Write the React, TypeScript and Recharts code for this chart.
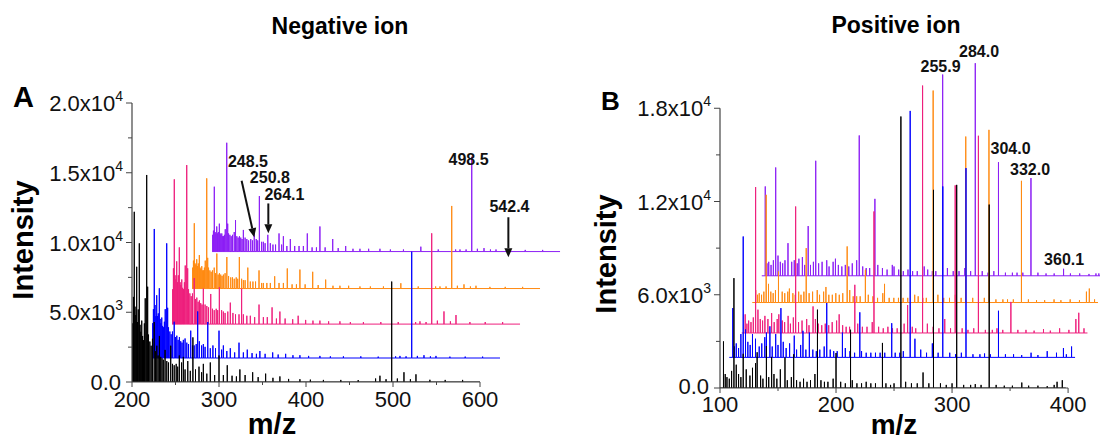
import { LineChart, Line, XAxis, YAxis, ReferenceLine, ReferenceDot } from 'recharts';

const FONT = 'Arial, "Liberation Sans", sans-serif';
const AXIS = '#444';

// ---- Negative ion (A): stick positions shared by the five spectra ----
const negMz = [
  200, 200.8, 201.6, 202.6, 203.5, 204.4, 205.4, 206.3, 207.2, 208.4,
  209.3, 210.2, 211.2, 212.2, 213.2, 214.2, 215.2, 216.9, 218, 219,
  220.5, 222, 223.5, 225.5, 227, 228.5, 230, 231.5, 233, 234.5,
  236, 238, 240, 242, 244.5, 246.5, 248.5, 250.8, 252.5, 254.4,
  257, 259, 261, 264.1, 267, 270, 273, 277, 280, 282,
  286, 290, 295, 300, 305, 309.5, 315, 320, 324, 330,
  338.7, 345, 353.6, 362, 370, 380, 393, 405, 420, 440,
  460, 480, 485, 492, 498.5, 505, 512.6, 520, 526.4, 542.4,
  560, 580, 600,
];
const negBlack = [
  0, 4200, 6100, 12200, 5400, 4800, 8260, 4300, 5200, 9940,
  4100, 3600, 4400, 3300, 3000, 4200, 6000, 14840, 6830, 3400,
  2900, 2600, 3100, 4300, 2200, 2600, 1900, 3300, 1800, 1700,
  1600, 2300, 1500, 1400, 2600, 1300, 1200, 1300, 1100, 1900,
  1400, 1800, 900, 1500, 800, 3200, 900, 1100, 700, 1300,
  600, 1400, 500, 1900, 500, 1200, 450, 400, 900, 500,
  700, 350, 600, 300, 400, 220, 200, 170, 150, 150,
  140, 250, 450, 200, 7200, 250, 700, 200, 550, 160,
  150, 150, 0,
];
const negBlue = [
  0, 2500, 3500, 9250, 3800, 3000, 4500, 3000, 3200, 5000,
  2800, 2500, 2900, 2300, 2200, 2600, 3500, 8220, 3600, 2200,
  1900, 1700, 1900, 2600, 1500, 1600, 1300, 1500, 1200, 1100,
  1300, 1400, 1100, 1000, 1960, 900, 900, 1000, 3340, 1200,
  900, 1000, 800, 2580, 700, 900, 700, 1960, 600, 900,
  500, 700, 400, 1100, 400, 600, 350, 300, 500, 300,
  400, 250, 300, 200, 200, 150, 150, 120, 120, 120,
  100, 120, 150, 120, 7620, 150, 200, 120, 150, 100,
  100, 100, 0,
];
const negPink = [
  0, 2500, 4000, 10380, 3500, 3200, 4500, 3000, 3500, 5500,
  3000, 2800, 3200, 2600, 2500, 3000, 4200, 11400, 4000, 2500,
  2200, 2000, 2200, 3300, 1800, 1900, 1600, 1700, 1500, 1400,
  2540, 1400, 1300, 1200, 2160, 1100, 1000, 1100, 1000, 2640,
  1000, 900, 800, 900, 1540, 800, 700, 700, 2540, 700,
  600, 600, 500, 1400, 500, 500, 1200, 400, 900, 400,
  350, 600, 300, 250, 250, 200, 200, 150, 150, 150,
  150, 150, 200, 150, 6510, 250, 910, 200, 650, 150,
  150, 150, 0,
];
const negOrange = [
  0, 1500, 2000, 4680, 1800, 1700, 2100, 1600, 1800, 2400,
  1500, 1400, 1600, 1300, 1300, 1500, 2000, 7900, 2200, 1500,
  1300, 1200, 1300, 1500, 1100, 2510, 1000, 1100, 1000, 900,
  1000, 1100, 2260, 900, 800, 800, 700, 800, 700, 2260,
  700, 600, 600, 1500, 500, 500, 500, 1300, 400, 400,
  400, 400, 880, 400, 400, 1440, 300, 300, 1360, 300,
  1200, 250, 640, 200, 200, 200, 150, 150, 150, 380,
  150, 150, 150, 150, 5920, 200, 300, 150, 200, 120,
  120, 120, 0,
];
const negPurple = [
  0, 1200, 1500, 4650, 1400, 1300, 1800, 1300, 1400, 2000,
  1300, 1200, 1300, 1100, 1100, 1200, 1600, 7800, 2000, 1300,
  1200, 1100, 1200, 1400, 2260, 1100, 1000, 1100, 1000, 900,
  1550, 1000, 900, 800, 900, 800, 1300, 900, 800, 3980,
  700, 700, 600, 1200, 600, 500, 500, 1300, 500, 1100,
  400, 900, 400, 400, 400, 1300, 300, 300, 1800, 300,
  900, 250, 400, 200, 200, 200, 200, 150, 150, 350,
  150, 150, 150, 150, 6800, 200, 250, 150, 150, 150,
  120, 120, 0,
];
// waterfall offsets (m/z, intensity) black -> purple
const negShiftMz = [0, 23, 46, 69, 92];
const negShiftInt = [0, 1720, 4150, 6700, 9350];

// ---- Positive ion (B) ----
const posMz = [
  100, 103, 104.5, 106, 108, 110, 112, 114, 116, 118,
  120, 122.6, 125.8, 128, 130.6, 132, 135, 137, 140, 142,
  144.5, 146.5, 149, 152, 156, 158, 161.5, 163.5, 166, 169,
  172, 175, 178, 181.8, 184, 187, 190, 193, 197.5, 200,
  204, 208, 212.5, 214, 218, 222, 226, 230, 234, 240,
  243, 247, 250, 255.9, 260, 265, 270, 275, 280, 284.0,
  290, 295, 300, 304.0, 310, 316, 320, 325, 332.0, 338,
  345, 352, 360.1, 366, 374, 382, 388, 390.5, 395, 398,
];
const posBlack = [
  0, 3000, 900, 700, 600, 1100, 7070, 1500, 900, 700,
  2200, 1200, 800, 1300, 1600, 2300, 800, 600, 2700, 700,
  2000, 900, 600, 1200, 1960, 500, 700, 2170, 500, 400,
  600, 400, 500, 900, 5040, 500, 400, 400, 600, 2250,
  400, 300, 3750, 500, 300, 300, 400, 300, 300, 2900,
  300, 200, 300, 17470, 400, 300, 300, 1000, 300, 12750,
  300, 200, 300, 13070, 200, 200, 250, 200, 11800, 200,
  150, 150, 350, 150, 150, 120, 200, 400, 500, 0,
];
const posBlue = [
  0, 3170, 700, 900, 600, 1500, 7780, 1800, 1000, 800,
  1500, 1200, 700, 900, 1300, 1600, 2000, 700, 1500, 800,
  3170, 1000, 600, 900, 1400, 500, 800, 1710, 500, 1600,
  500, 400, 500, 700, 3500, 500, 400, 400, 1600, 600,
  400, 300, 2900, 400, 300, 300, 300, 300, 300, 2200,
  300, 300, 400, 15860, 1200, 500, 300, 900, 300, 11000,
  300, 200, 300, 12180, 200, 200, 250, 200, 3000, 200,
  200, 150, 300, 150, 400, 300, 600, 200, 700, 0,
];
const posPink = [
  0, 1200, 600, 800, 700, 1000, 9390, 1500, 900, 800,
  1100, 900, 1280, 700, 900, 1200, 800, 700, 1100, 600,
  1000, 8140, 700, 800, 900, 500, 1710, 900, 600, 500,
  600, 500, 700, 800, 1200, 500, 400, 400, 3100, 600,
  400, 400, 700, 7820, 400, 300, 400, 300, 300, 600,
  1800, 400, 300, 15920, 600, 400, 300, 900, 300, 9500,
  300, 200, 300, 12690, 200, 200, 300, 200, 2000, 200,
  200, 150, 250, 150, 300, 200, 900, 1300, 300, 0,
];
const posOrange = [
  0, 800, 500, 600, 500, 700, 6930, 1200, 700, 600,
  800, 2000, 700, 600, 700, 900, 600, 500, 700, 500,
  700, 3500, 600, 700, 800, 500, 700, 1000, 500, 500,
  600, 500, 600, 3610, 800, 400, 400, 400, 2110, 500,
  400, 300, 600, 1200, 300, 300, 300, 300, 300, 500,
  400, 300, 300, 13640, 500, 300, 300, 500, 300, 10680,
  300, 200, 300, 11110, 200, 200, 200, 200, 7830, 200,
  150, 150, 200, 150, 200, 150, 700, 900, 200, 0,
];
const posPurple = [
  0, 5750, 800, 900, 700, 1000, 6970, 1300, 900, 800,
  1000, 2100, 900, 1000, 800, 1100, 1200, 700, 3200, 700,
  900, 7400, 800, 900, 1000, 600, 900, 1100, 700, 600,
  700, 600, 800, 1000, 9030, 600, 500, 500, 4950, 700,
  500, 400, 700, 600, 400, 300, 400, 300, 300, 600,
  400, 300, 300, 12950, 500, 300, 300, 500, 300, 13680,
  300, 200, 300, 7310, 200, 200, 200, 200, 6290, 200,
  150, 150, 450, 150, 150, 120, 150, 150, 150, 0,
];
const posShiftMz = [0, 8, 18.7, 27.8, 36];
const posShiftInt = [0, 1970, 3540, 5500, 7220];

const COLORS = ['#000000', '#0000ff', '#ee1f7c', '#ff8a12', '#8c1ff5'];

const negMzTicks = [200, 250, 300, 350, 400, 450, 500, 550, 600];
const negIntTicks = [0, 2500, 5000, 7500, 10000, 12500, 15000, 17500, 20000];
const posMzTicks = [100, 150, 200, 250, 300, 350, 400];
const posIntTicks = [0, 3000, 6000, 9000, 12000, 15000, 18000];

const negLabels = [
  { text: '248.5', x: 333.3, y: 15850 },
  { text: '250.8', x: 358.5, y: 14650 },
  { text: '264.1', x: 375.2, y: 13450 },
  { text: '498.5', x: 586.8, y: 15960 },
  { text: '542.4', x: 633.9, y: 12620 },
];
const negArrows = [
  [326, 14430, 340.5, 10380],
  [356.7, 12800, 356.7, 10660],
  [632.6, 11810, 632.6, 8940],
];
const posLabels = [
  { text: '284.0', x: 323.3, y: 21650 },
  { text: '255.9', x: 290.1, y: 20680 },
  { text: '304.0', x: 350.4, y: 15430 },
  { text: '332.0', x: 367.2, y: 14040 },
  { text: '360.1', x: 396.6, y: 8250 },
];

function sticks(mz: number[], ints: number[], dx: number, base: number) {
  const pts: { x: number; y: number }[] = [];
  mz.forEach((m, i) => {
    const v = ints[i] ?? 0;
    pts.push({ x: m + dx, y: base });
    if (v > 0) {
      pts.push({ x: m + dx, y: base + v });
      pts.push({ x: m + dx, y: base });
    }
  });
  return pts;
}

function sci(v: number): [string, string | null] {
  if (v === 0) return ['0.0', null];
  const e = Math.floor(Math.log10(v));
  return [(v / Math.pow(10, e)).toFixed(1) + 'x10', String(e)];
}

const makeXTick = (major: number, gap: number) => (props: any) => {
  const { x, y, payload } = props;
  const isMajor = payload.value % major === 0;
  return (
    <g>
      <line x1={x} x2={x} y1={y} y2={y + (isMajor ? 5 : 3)} stroke={AXIS} />
      {isMajor && (
        <text x={x} y={y + gap} textAnchor="middle" fontSize={22} fontFamily={FONT} fill="#111">
          {payload.value}
        </text>
      )}
    </g>
  );
};

const makeYTick = (major: number, zeroDy: number) => (props: any) => {
  const { x, y, payload } = props;
  const isMajor = payload.value % major === 0;
  const [main, exp] = sci(payload.value);
  return (
    <g>
      <line x1={x - (isMajor ? 6 : 4)} x2={x} y1={y} y2={y} stroke={AXIS} />
      {isMajor && (
        <text
          x={x - (exp ? 9 : 11)}
          y={y + (exp ? 8 : zeroDy)}
          textAnchor="end"
          fontSize={22}
          fontFamily={FONT}
          fill="#111"
        >
          {main}
          {exp && (
            <tspan dy={-10} fontSize={14}>
              {exp}
            </tspan>
          )}
        </text>
      )}
    </g>
  );
};

const Arrow = (props: any) => {
  const { x1, y1, x2, y2 } = props;
  const a = Math.atan2(y2 - y1, x2 - x1);
  const L = 9;
  const W = 4;
  const bx = x2 - L * Math.cos(a);
  const by = y2 - L * Math.sin(a);
  const px = -Math.sin(a) * W;
  const py = Math.cos(a) * W;
  return (
    <g>
      <line x1={x1} y1={y1} x2={bx} y2={by} stroke="#111" strokeWidth={2} />
      <polygon points={`${x2},${y2} ${bx + px},${by + py} ${bx - px},${by - py}`} fill="#111" />
    </g>
  );
};

const labelStyle = { position: 'center' as const, fontSize: 16, fontWeight: 700, fill: '#111', fontFamily: FONT };

export default function App() {
  const negSeries = [negBlack, negBlue, negPink, negOrange, negPurple];
  const posSeries = [posBlack, posBlue, posPink, posOrange, posPurple];
  const order = [4, 3, 2, 1, 0];

  return (
    <div style={{ position: 'absolute', left: 0, top: 0, width: 1100, height: 441, background: '#fff', overflow: 'hidden' }}>
      <div style={{ position: 'absolute', left: 0, top: 0 }}>
        <LineChart width={600} height={441} margin={{ top: 103, right: 33, bottom: 0, left: 0 }}>
          <XAxis
            dataKey="x"
            type="number"
            domain={[200, 700]}
            allowDataOverflow
            ticks={negMzTicks}
            interval={0}
            axisLine={false}
            tickLine={false}
            tickSize={0}
            tickMargin={0}
            height={59}
            tick={makeXTick(100, 25)}
          />
          <YAxis
            type="number"
            domain={[0, 20000]}
            allowDataOverflow
            ticks={negIntTicks}
            interval={0}
            axisLine={false}
            tickLine={false}
            tickSize={0}
            tickMargin={0}
            width={132}
            tick={makeYTick(5000, 8)}
          />
          {order.map((k) => (
            <Line
              key={k}
              data={sticks(negMz, negSeries[k], negShiftMz[k], negShiftInt[k])}
              dataKey="y"
              type="linear"
              stroke={COLORS[k]}
              strokeWidth={1}
              dot={false}
              activeDot={false}
              isAnimationActive={false}
            />
          ))}
          <ReferenceLine segment={[{ x: 200, y: 0 }, { x: 600, y: 0 }]} stroke={AXIS} strokeWidth={1.2} />
          <ReferenceLine segment={[{ x: 200, y: 0 }, { x: 200, y: 20000 }]} stroke={AXIS} strokeWidth={1.2} />
          {negArrows.map((a, i) => (
            <ReferenceLine key={i} segment={[{ x: a[0], y: a[1] }, { x: a[2], y: a[3] }]} shape={Arrow} />
          ))}
          {negLabels.map((l) => (
            <ReferenceDot key={l.text} x={l.x} y={l.y} r={0} fill="none" stroke="none" label={{ value: l.text, ...labelStyle }} />
          ))}
        </LineChart>
      </div>

      <div style={{ position: 'absolute', left: 590, top: 0 }}>
        <LineChart width={510} height={441} margin={{ top: 15, right: 0, bottom: 0, left: 0 }}>
          <XAxis
            dataKey="x"
            type="number"
            domain={[100, 427.5]}
            allowDataOverflow
            ticks={posMzTicks}
            interval={0}
            axisLine={false}
            tickLine={false}
            tickSize={0}
            tickMargin={0}
            height={53}
            tick={makeXTick(100, 24)}
          />
          <YAxis
            type="number"
            domain={[0, 24000]}
            allowDataOverflow
            ticks={posIntTicks}
            interval={0}
            axisLine={false}
            tickLine={false}
            tickSize={0}
            tickMargin={0}
            width={130}
            tick={makeYTick(6000, 6)}
          />
          {order.map((k) => (
            <Line
              key={k}
              data={sticks(posMz, posSeries[k], posShiftMz[k], posShiftInt[k])}
              dataKey="y"
              type="linear"
              stroke={COLORS[k]}
              strokeWidth={1}
              dot={false}
              activeDot={false}
              isAnimationActive={false}
            />
          ))}
          <ReferenceLine segment={[{ x: 100, y: 0 }, { x: 400, y: 0 }]} stroke={AXIS} strokeWidth={1.2} />
          <ReferenceLine segment={[{ x: 100, y: 0 }, { x: 100, y: 18000 }]} stroke={AXIS} strokeWidth={1.2} />
          {posLabels.map((l) => (
            <ReferenceDot key={l.text} x={l.x} y={l.y} r={0} fill="none" stroke="none" label={{ value: l.text, ...labelStyle }} />
          ))}
        </LineChart>
      </div>

      <svg width={1100} height={441} style={{ position: 'absolute', left: 0, top: 0, pointerEvents: 'none' }} fontFamily={FONT}>
        <text x={340} y={34} textAnchor="middle" fontSize={23} fontWeight={700}>Negative ion</text>
        <text x={896} y={33} textAnchor="middle" fontSize={23} fontWeight={700}>Positive ion</text>
        <text x={13} y={107} fontSize={29} fontWeight={700}>A</text>
        <text x={601} y={110} fontSize={26} fontWeight={700}>B</text>
        <text transform="translate(33,240) rotate(-90)" textAnchor="middle" fontSize={29} fontWeight={700}>Intensity</text>
        <text transform="translate(616,254) rotate(-90)" textAnchor="middle" fontSize={29} fontWeight={700}>Intensity</text>
        <text x={272} y={434} textAnchor="middle" fontSize={29} fontWeight={700}>m/z</text>
        <text x={894} y={434} textAnchor="middle" fontSize={28} fontWeight={700}>m/z</text>
      </svg>
    </div>
  );
}
